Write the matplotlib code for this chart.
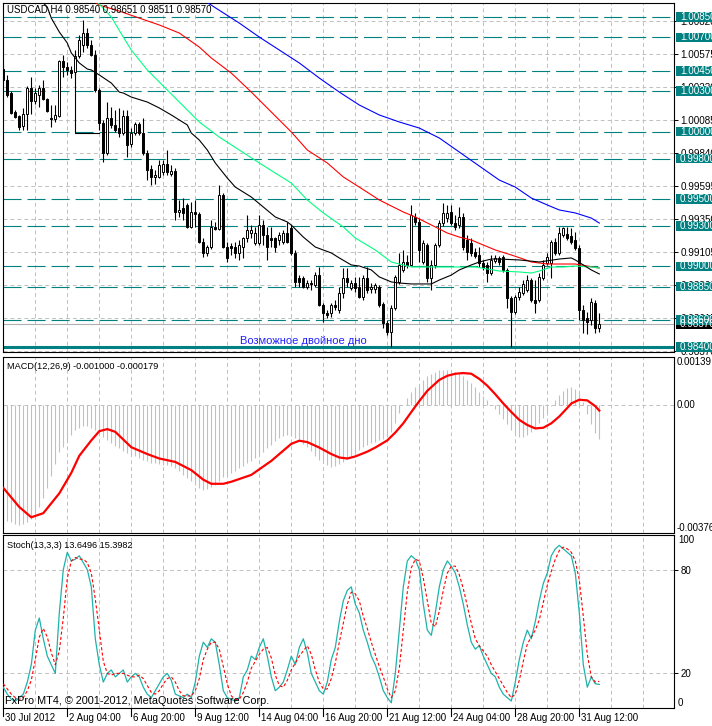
import numpy as np
import matplotlib.pyplot as plt
import matplotlib.transforms as mtransforms
from matplotlib.patches import Rectangle
from matplotlib.ticker import FormatStrFormatter

plt.rcParams['font.family'] = ['Liberation Sans', 'DejaVu Sans']
plt.rcParams['lines.scale_dashes'] = False

W, H = 712, 726
TEAL = '#008080'
GRID = '#c0c0c0'

# USDCAD H4 candles, prices in points (1e-5)
opens = np.array([
    100464, 100382, 100286, 100145, 100115, 100041, 100130, 100323, 100227, 100271,
    100323, 100241, 100100, 100093, 100115, 100523, 100479, 100457, 100442, 100560,
    100640, 100731, 100642, 100568, 100308, 100063, 99841, 100100, 100048, 100026,
    99989, 100115, 99907, 99989, 100056, 99989, 99841, 99722, 99663, 99663,
    99700, 99759, 99685, 99707, 99403, 99433, 99455, 99292, 99403, 99388,
    99180, 99099, 99143, 99292, 99277, 99529, 99143, 99151, 99143, 99099,
    99143, 99210, 99247, 99173, 99173, 99306, 99232, 99210, 99210, 99195,
    99180, 99247, 99284, 99099, 98913, 98913, 98846, 98876, 98861, 98935,
    98713, 98654, 98654, 98713, 98676, 98802, 98913, 98839, 98876, 98846,
    98772, 98913, 98832, 98832, 98846, 98720, 98579, 98513, 98691, 98884,
    98973, 99032, 99010, 99366, 99329, 99032, 99158, 98913, 99010, 99158,
    99321, 99358, 99403, 99321, 99306, 99366, 99195, 99173, 99106, 99084,
    99025, 99010, 98950, 99039, 99062, 99069, 98973, 98765, 98661, 98772,
    98802, 98824, 98898, 98750, 98750, 98913, 99025, 99025, 99180, 99099,
    99232, 99240, 99225, 99195, 99136, 98676, 98616, 98602, 98728, 98540]) / 1e5
highs = np.array([
    100494, 100420, 100301, 100160, 100123, 100175, 100338, 100405, 100323, 100345,
    100382, 100249, 100197, 100197, 100531, 100568, 100516, 100486, 100605, 100716,
    100828, 100768, 100679, 100605, 100323, 100086, 100219, 100182, 100160, 100175,
    100160, 100160, 100026, 100071, 100071, 100100, 99863, 99752, 99715, 99789,
    99789, 99863, 99752, 99729, 99492, 99507, 99470, 99477, 99492, 99403,
    99210, 99158, 99344, 99329, 99603, 99544, 99180, 99173, 99180, 99195,
    99217, 99381, 99306, 99292, 99381, 99344, 99292, 99292, 99217, 99255,
    99269, 99329, 99306, 99121, 98935, 98928, 98898, 98898, 98958, 98995,
    98728, 98676, 98728, 98750, 98846, 98987, 98987, 98898, 98921, 98921,
    98935, 98995, 98876, 98876, 98861, 98735, 98602, 98713, 98935, 99099,
    99121, 99084, 99455, 99396, 99358, 99195, 99173, 99047, 99173, 99344,
    99470, 99455, 99455, 99381, 99440, 99396, 99232, 99210, 99136, 99143,
    99047, 99032, 99084, 99084, 99076, 99084, 98987, 98780, 98787, 98846,
    98898, 98935, 98913, 98898, 98950, 99047, 99099, 99195, 99210, 99292,
    99292, 99292, 99284, 99255, 99158, 98713, 98661, 98765, 98750, 98651]) / 1e5
lows = np.array([
    100368, 100256, 100130, 100100, 100011, 100011, 100011, 100130, 100204, 100182,
    100234, 100145, 100034, 100071, 100108, 100405, 100420, 100397, 100420, 100546,
    100590, 100620, 100560, 100293, 100011, 99774, 99826, 100026, 99997, 99959,
    99974, 99811, 99885, 99974, 99974, 99826, 99640, 99603, 99611, 99655,
    99678, 99678, 99670, 99344, 99366, 99344, 99284, 99284, 99292, 99173,
    99069, 99076, 99128, 99269, 99269, 99136, 99032, 99084, 99062, 99047,
    99062, 99180, 99210, 99158, 99158, 99158, 99047, 99143, 99106, 99158,
    99165, 99173, 99084, 98846, 98846, 98839, 98832, 98824, 98846, 98705,
    98587, 98616, 98624, 98676, 98654, 98765, 98846, 98824, 98809, 98765,
    98750, 98802, 98802, 98802, 98698, 98542, 98490, 98401, 98676, 98869,
    98958, 98987, 99002, 99306, 99032, 99017, 98884, 98824, 98987, 99143,
    99299, 99329, 99306, 99269, 99284, 99121, 99047, 99076, 99062, 98995,
    98973, 98884, 98935, 99025, 99010, 98958, 98691, 98401, 98646, 98750,
    98787, 98809, 98735, 98654, 98735, 98898, 99010, 98913, 99084, 99084,
    99217, 99195, 99165, 99121, 98602, 98505, 98498, 98565, 98505, 98511]) / 1e5
closes = np.array([
    100382, 100271, 100138, 100108, 100034, 100130, 100323, 100227, 100286, 100323,
    100241, 100152, 100093, 100123, 100523, 100479, 100457, 100434, 100560, 100679,
    100731, 100642, 100568, 100308, 100063, 99841, 100100, 100048, 100011, 99989,
    100115, 99900, 99989, 100056, 99989, 99841, 99715, 99663, 99678, 99752,
    99759, 99700, 99707, 99403, 99418, 99396, 99292, 99403, 99388, 99180,
    99099, 99143, 99292, 99277, 99529, 99143, 99062, 99136, 99099, 99158,
    99210, 99269, 99269, 99247, 99306, 99232, 99143, 99195, 99143, 99232,
    99247, 99180, 99099, 98884, 98884, 98846, 98876, 98869, 98935, 98713,
    98654, 98639, 98713, 98698, 98802, 98913, 98884, 98876, 98839, 98772,
    98913, 98824, 98846, 98861, 98713, 98579, 98513, 98691, 98921, 99010,
    99032, 99010, 99381, 99329, 99121, 99173, 98913, 99010, 99158, 99321,
    99396, 99396, 99321, 99292, 99366, 99143, 99106, 99099, 99076, 99025,
    98995, 98950, 99047, 99062, 99032, 98973, 98765, 98661, 98772, 98809,
    98869, 98898, 98750, 98728, 98921, 99010, 99069, 99180, 99099, 99247,
    99284, 99210, 99180, 99136, 98676, 98602, 98587, 98735, 98542, 98570]) / 1e5

# moving averages: (bar index, price points)
ma_black_x = [10, 11, 12, 14, 16, 17, 19, 21, 22, 24, 27, 29, 30, 32, 36, 39, 42, 46, 47, 49,
              51, 53, 56, 58, 62, 65, 68, 71, 72, 75, 78, 82, 84, 87, 89, 92, 94, 97, 99, 102,
              107, 109, 112, 114, 117, 119, 122, 124, 129, 134, 139, 142, 143, 145, 147, 149]
ma_black_y = [100954, 100924, 100842, 100739, 100657, 100583, 100509, 100464, 100457, 100420,
              100360, 100293, 100286, 100256, 100219, 100175, 100123, 100049, 99989, 99937,
              99863, 99767, 99655, 99588, 99514, 99440, 99366, 99329, 99306, 99217,
              99143, 99099, 99062, 99010, 99002, 98973, 98921, 98884, 98876, 98869,
              98869, 98898, 98935, 98973, 99010, 99032, 99054, 99054, 99047, 99032,
              99054, 99062, 99047, 99010, 98973, 98943]
ma_green_x = [23, 24, 27, 30, 32, 36, 41, 46, 49, 54, 59, 64, 68, 72, 76, 80, 85, 88, 93, 97,
              102, 106, 111, 114, 118, 124, 129, 132, 134, 137, 140, 143, 147, 149]
ma_green_y = [100976, 100946, 100850, 100701, 100605, 100457, 100308, 100160, 100071, 99959,
              99863, 99767, 99692, 99618, 99492, 99396, 99292, 99210, 99121, 99032,
              98995, 98995, 98995, 98995, 98995, 98965, 98958, 98950, 98965, 98995,
              98995, 99002, 98995, 98987]
ma_red_x = [22, 24, 29, 34, 39, 44, 49, 52, 57, 62, 67, 72, 76, 81, 85, 89, 94, 100, 103, 108,
            111, 114, 117, 120, 123, 127, 130, 132, 136, 139, 143, 146, 149]
ma_red_y = [100976, 100939, 100894, 100842, 100791, 100731, 100627, 100546, 100434, 100293,
            100145, 99997, 99863, 99767, 99663, 99588, 99492, 99403, 99366, 99292,
            99247, 99217, 99195, 99158, 99121, 99084, 99054, 99032, 99017, 99017,
            99017, 99002, 98987]
ma_blue_x = [50, 59, 64, 69, 74, 79, 84, 89, 94, 99, 104, 109, 114, 119, 124, 128, 132, 136,
             139, 143, 147, 149]
ma_blue_y = [100976, 100805, 100701, 100605, 100509, 100397, 100293, 100197, 100123, 100071,
             100026, 99952, 99848, 99744, 99640, 99588, 99507, 99455, 99418, 99396,
             99358, 99321]

# horizontal levels drawn by the author
levels = [1.0085, 1.0070, 1.0045, 1.0030, 1.0000, 0.9980, 0.9950, 0.9930, 0.9900, 0.9885, 0.9860]
support = 0.9840
price_ticks = [1.0082, 1.00575, 1.0033, 1.00085, 0.9984, 0.99595, 0.9935, 0.99105,
               0.9886, 0.98615, 0.9837]

# MACD(12,26,9) histogram, 1e-5 units
macd_hist = np.array([
    -335, -340, -345, -350, -352, -350, -345, -335, -320, -300,
    -275, -245, -210, -175, -140, -125, -105, -88, -75, -68,
    -64, -64, -68, -75, -85, -95, -105, -112, -120, -128,
    -135, -142, -148, -152, -158, -162, -166, -170, -172, -175,
    -176, -178, -180, -185, -195, -205, -215, -225, -235, -245,
    -250, -248, -242, -235, -225, -212, -205, -200, -195, -185,
    -180, -172, -165, -158, -148, -138, -128, -118, -108, -98,
    -92, -90, -92, -98, -106, -115, -125, -135, -150, -162,
    -172, -178, -182, -180, -175, -168, -160, -150, -142, -132,
    -125, -118, -112, -110, -105, -100, -95, -80, -55, -25,
    0, 20, 38, 50, 60, 72, 82, 90, 96, 100,
    102, 102, 100, 96, 90, 82, 72, 62, 50, 38,
    25, 12, 0, -14, -28, -42, -58, -75, -88, -95,
    -95, -90, -80, -68, -55, -40, -22, -5, 12, 28,
    40, 48, 50, 46, 36, 8, -28, -58, -82, -100]) * 1e-5
macd_sig_x = [0, 4, 7, 10, 14, 17, 19, 22, 24, 26, 28, 32, 36, 39, 43, 47, 50, 52, 55, 57,
              62, 67, 70, 72, 74, 76, 79, 82, 84, 86, 88, 91, 93, 96, 98, 100, 102, 104, 106, 109,
              111, 113, 115, 117, 119, 121, 123, 125, 127, 129, 131, 133, 135, 137, 139, 141, 142,
              144, 146, 148, 149]
macd_sig_y = np.array([
    -244, -300, -330, -318, -260, -200, -150, -105, -78, -72,
    -80, -125, -145, -158, -168, -192, -220, -232, -232, -226,
    -206, -165, -135, -115, -106, -110, -126, -145, -155, -158,
    -152, -138, -126, -105, -82, -55, -22, 10, 40, 72,
    84, 90, 92, 90, 75, 55, 30, 3, -22, -45,
    -60, -70, -68, -55, -35, -10, 3, 14, 12, -5, -17.9]) * 1e-5

# Stochastic(13,3,3)
stoch_main = [
    12, 8, 5, 4, 6, 8, 15, 25, 45, 52, 40, 30, 25, 20, 55, 80, 90, 85, 86, 88,
    84, 80, 70, 40, 25, 15, 20, 22, 18, 20, 22, 15, 18, 20, 18, 12, 8, 6, 10, 14,
    18, 20, 16, 8, 7, 6, 8, 6, 15, 30, 38, 35, 40, 38, 25, 10, 6, 5, 4, 6,
    18, 22, 30, 28, 35, 40, 30, 18, 10, 12, 15, 22, 30, 25, 35, 40, 32, 20, 15, 10,
    8, 15, 28, 35, 50, 62, 68, 70, 60, 55, 45, 38, 30, 25, 18, 10, 6, 3, 20, 45,
    70, 85, 88, 86, 80, 60, 45, 42, 55, 70, 80, 85, 82, 78, 70, 60, 48, 38, 34, 36,
    30, 25, 20, 18, 12, 8, 6, 4, 15, 28, 38, 45, 40, 50, 62, 72, 78, 88, 92, 94,
    92, 90, 88, 78, 55, 25, 12, 18, 14, 13.6496]
stoch_sig = [
    14, 11, 8, 6, 5, 6, 10, 16, 28, 41, 46, 41, 32, 25, 33, 52, 75, 85, 87, 86,
    86, 84, 78, 63, 45, 27, 20, 19, 20, 20, 20, 19, 18, 18, 19, 17, 13, 9, 8, 10,
    14, 17, 18, 15, 10, 7, 7, 7, 10, 17, 28, 34, 38, 38, 34, 24, 14, 7, 5, 5,
    9, 15, 23, 27, 31, 34, 35, 29, 19, 13, 12, 16, 22, 26, 30, 33, 36, 31, 22, 15,
    11, 11, 17, 26, 38, 49, 60, 67, 66, 62, 53, 46, 38, 31, 24, 18, 11, 6, 10, 23,
    45, 67, 81, 86, 85, 75, 62, 49, 47, 56, 68, 78, 82, 82, 77, 69, 59, 49, 40, 36,
    33, 30, 25, 21, 17, 13, 9, 6, 8, 16, 27, 37, 41, 45, 51, 61, 71, 79, 86, 91,
    93, 92, 90, 85, 74, 53, 31, 18, 15, 15.3982]

time_idx = [16, 32, 48, 64, 80, 96, 112, 128, 144]
time_labels = ['2 Aug 04:00', '6 Aug 20:00', '9 Aug 12:00', '14 Aug 04:00', '16 Aug 20:00',
               '21 Aug 12:00', '24 Aug 04:00', '28 Aug 20:00', '31 Aug 12:00']

idx = np.arange(len(closes))
XLIM = (-0.075, 167.675)

fig = plt.figure(figsize=(W / 100, H / 100), dpi=100)


def panel(top, bottom):
    return fig.add_axes([3 / W, 1 - bottom / H, (674 - 3) / W, (bottom - top) / H])


ax = panel(3, 352)
axm = panel(357, 533)
axs = panel(535, 708)

for a in (ax, axm, axs):
    a.set_xticks(np.arange(8, 168, 8))
    a.tick_params(axis='x', length=0, labelbottom=False)
    a.grid(axis='x', color=GRID, lw=0.7, dashes=(2.8, 2.2))
    a.yaxis.tick_right()
    for s in a.spines.values():
        s.set_linewidth(0.8)
    a.set_axisbelow(True)

# ---- main chart ----
ax.set_ylim(98364 / 1e5, 100954 / 1e5)
py = (ax.get_ylim()[1] - ax.get_ylim()[0]) / 349.0
ax.set_yticks(price_ticks)
ax.yaxis.set_major_formatter(FormatStrFormatter('%.5f'))
ax.tick_params(axis='y', length=3, width=0.7, pad=1.5, labelsize=7.1)
ax.grid(axis='y', color=GRID, lw=0.7, dashes=(2.8, 2.2))

for lv in levels:
    ax.axhline(lv, color=TEAL, lw=0.8, dashes=(13, 4.3), zorder=1.6)
ax.axhline(support, color=TEAL, lw=2.2, zorder=1.6)
ax.axhline(closes[-1], color='#b0b0b0', lw=0.8, zorder=1.7)

# candles
up = closes >= opens
body_lo = np.minimum(opens, closes)
body_h = np.maximum(np.abs(closes - opens), py * 0.4)
ax.vlines(idx, lows, highs, color='black', lw=0.8, zorder=3)
ax.bar(idx[up], body_h[up], bottom=body_lo[up], width=0.55, color='white',
       edgecolor='black', lw=0.7, zorder=3.1)
ax.bar(idx[~up], body_h[~up], bottom=body_lo[~up], width=0.55, color='black',
       edgecolor='black', lw=0.7, zorder=3.1)

ax.plot(ma_blue_x, np.array(ma_blue_y) / 1e5, color='#0000ff', lw=0.8, zorder=4)
ax.plot(ma_red_x, np.array(ma_red_y) / 1e5, color='#ff0000', lw=0.8, zorder=4)
ax.plot(ma_green_x, np.array(ma_green_y) / 1e5, color='#00ff80', lw=0.8, zorder=4)
ax.plot(ma_black_x, np.array(ma_black_y) / 1e5, color='black', lw=0.8, zorder=4)

# drawn object near 2 Aug
ax.plot([18, 18, 24], [1.00442, 0.99989, 0.99989], color='black', lw=0.8, zorder=3)
ax.text(59.2, 0.98446, 'Возможное двойное дно', color='#2020ff', fontsize=8,
        va='center', ha='left', zorder=5)

# right-hand price labels
trans = mtransforms.blended_transform_factory(fig.transFigure, ax.transData)


def price_box(val, face):
    ax.add_patch(Rectangle((676 / W, val - 4.7 * py), 40 / W, 9.4 * py, transform=trans,
                           facecolor=face, edgecolor='none', clip_on=False, zorder=5))
    ax.text(680 / W, val, f'{val:.5f}', transform=trans, color='white', fontsize=7.1,
            va='center', ha='left', clip_on=False, zorder=6)


price_box(closes[-1], 'black')
for lv in levels + [support]:
    price_box(lv, TEAL)

ax.set_xlim(*XLIM)
fig.text(7 / W, 1 - 10 / H,
         f'USDCAD,H4 {opens[-1]:.5f} {highs[-1]:.5f} {lows[-1]:.5f} {closes[-1]:.5f}',
         fontsize=6.9, va='center', ha='left')

# ---- MACD ----
axm.vlines(idx, 0, macd_hist, color='#c0c0c0', lw=0.8, zorder=2)
axm.plot(macd_sig_x, macd_sig_y, color='red', lw=1.6, zorder=3)
axm.set_ylim(-0.00376, 0.00139)
axm.set_xlim(*XLIM)
axm.set_yticks([0])
axm.tick_params(axis='y', length=0, labelright=False)
axm.grid(axis='y', color=GRID, lw=0.7, dashes=(2.8, 2.2))
mt = mtransforms.blended_transform_factory(fig.transFigure, axm.transData)
axm.text(677 / W, 0.00139, '0.00139', transform=mt, fontsize=7, va='top', ha='left')
axm.text(677 / W, 0.0, '0.00', transform=mt, fontsize=7, va='center', ha='left')
axm.text(677 / W, -0.00376, '-0.00376', transform=mt, fontsize=7, va='bottom', ha='left')
fig.text(7 / W, 1 - 367 / H, f'MACD(12,26,9) {macd_hist[-1]:.6f} {macd_sig_y[-1]:.6f}',
         fontsize=6.6, va='center', ha='left')

# ---- Stochastic ----
axs.plot(idx, stoch_main, color='#20b2aa', lw=0.9, zorder=3)
axs.plot(idx, stoch_sig, color='red', lw=0.8, dashes=(2.2, 1.6), zorder=3)
axs.set_ylim(0, 100)
axs.set_xlim(*XLIM)
axs.set_yticks([20, 80])
axs.tick_params(axis='y', length=3, width=0.7, pad=1.5, labelsize=7)
axs.grid(axis='y', color=GRID, lw=0.7, dashes=(2.8, 2.2))
st = mtransforms.blended_transform_factory(fig.transFigure, axs.transData)
axs.text(678 / W, 100, '100', transform=st, fontsize=7, va='top', ha='left')
axs.text(678 / W, 0, '0', transform=st, fontsize=7, va='bottom', ha='left')
fig.text(7 / W, 1 - 546 / H, f'Stoch(13,3,3) {stoch_main[-1]:.4f} {stoch_sig[-1]:.4f}',
         fontsize=6.6, va='center', ha='left')
fig.text(5 / W, 1 - 701 / H, 'FxPro MT4, © 2001-2012, MetaQuotes Software Corp.',
         fontsize=7.8, va='center', ha='left')

# time axis
tx = mtransforms.blended_transform_factory(axs.transData, axs.transAxes)
tick_h = 8 / 173
for i, lab in zip([XLIM[0]] + time_idx, ['30 Jul 2012'] + time_labels):
    axs.plot([i, i], [0, -tick_h], transform=tx, color='black', lw=0.8, clip_on=False)
    axs.annotate(lab, xy=(i, 0), xycoords=tx, xytext=(2, -10), textcoords='offset pixels',
                 fontsize=7, ha='left', va='center')

fig.savefig('out.png', dpi=100)
